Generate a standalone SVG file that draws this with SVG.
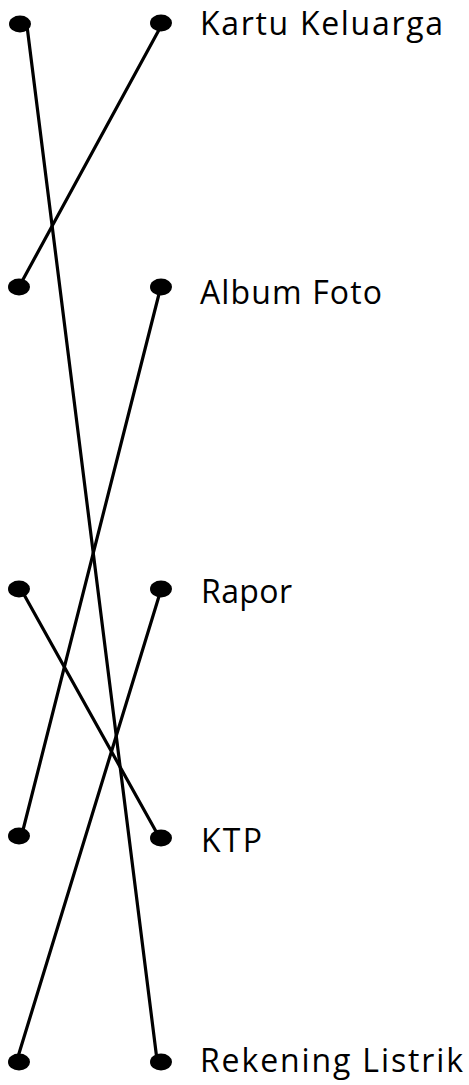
<svg xmlns="http://www.w3.org/2000/svg" width="469" height="1085" viewBox="0 0 469 1085">
<style>
.dot{fill:#000}
.lbl{font-family:"Open Sans","DejaVu Sans",sans-serif;font-size:32px;fill:#000}
.con line{stroke:#000;stroke-width:3.2;stroke-linecap:round}
</style>
<rect width="469" height="1085" fill="#fff"/>
<g id="connectors" class="con">
<line x1="27" y1="26" x2="157" y2="1060"/>
<line x1="160" y1="28" x2="20" y2="285"/>
<line x1="160" y1="290" x2="22" y2="834"/>
<line x1="22" y1="591" x2="158" y2="835"/>
<line x1="160" y1="593" x2="17" y2="1060"/>
</g>
<g id="left1"><ellipse class="dot" cx="20" cy="24" rx="11" ry="8.5"/></g>
<g id="left2"><ellipse class="dot" cx="19" cy="287" rx="11" ry="8.5"/></g>
<g id="left3"><ellipse class="dot" cx="19" cy="589" rx="11" ry="8.5"/></g>
<g id="left4"><ellipse class="dot" cx="19" cy="836" rx="11" ry="8.5"/></g>
<g id="left5"><ellipse class="dot" cx="19" cy="1062" rx="11" ry="8.5"/></g>
<g id="kartu"><ellipse class="dot" cx="161" cy="23" rx="11" ry="8.5"/><text class="lbl" x="200" y="35" textLength="243" lengthAdjust="spacing">Kartu Keluarga</text></g>
<g id="album"><ellipse class="dot" cx="161" cy="287" rx="11" ry="8.5"/><text class="lbl" x="200" y="304" textLength="182" lengthAdjust="spacing">Album Foto</text></g>
<g id="rapor"><ellipse class="dot" cx="161" cy="589" rx="11" ry="8.5"/><text class="lbl" x="201" y="603" textLength="91" lengthAdjust="spacing">Rapor</text></g>
<g id="ktp"><ellipse class="dot" cx="161" cy="838" rx="11" ry="8.5"/><text class="lbl" x="201" y="852" textLength="61" lengthAdjust="spacing">KTP</text></g>
<g id="rekening"><ellipse class="dot" cx="161" cy="1062" rx="11" ry="8.5"/><text class="lbl" x="200" y="1072" textLength="263" lengthAdjust="spacing">Rekening Listrik</text></g>
</svg>
